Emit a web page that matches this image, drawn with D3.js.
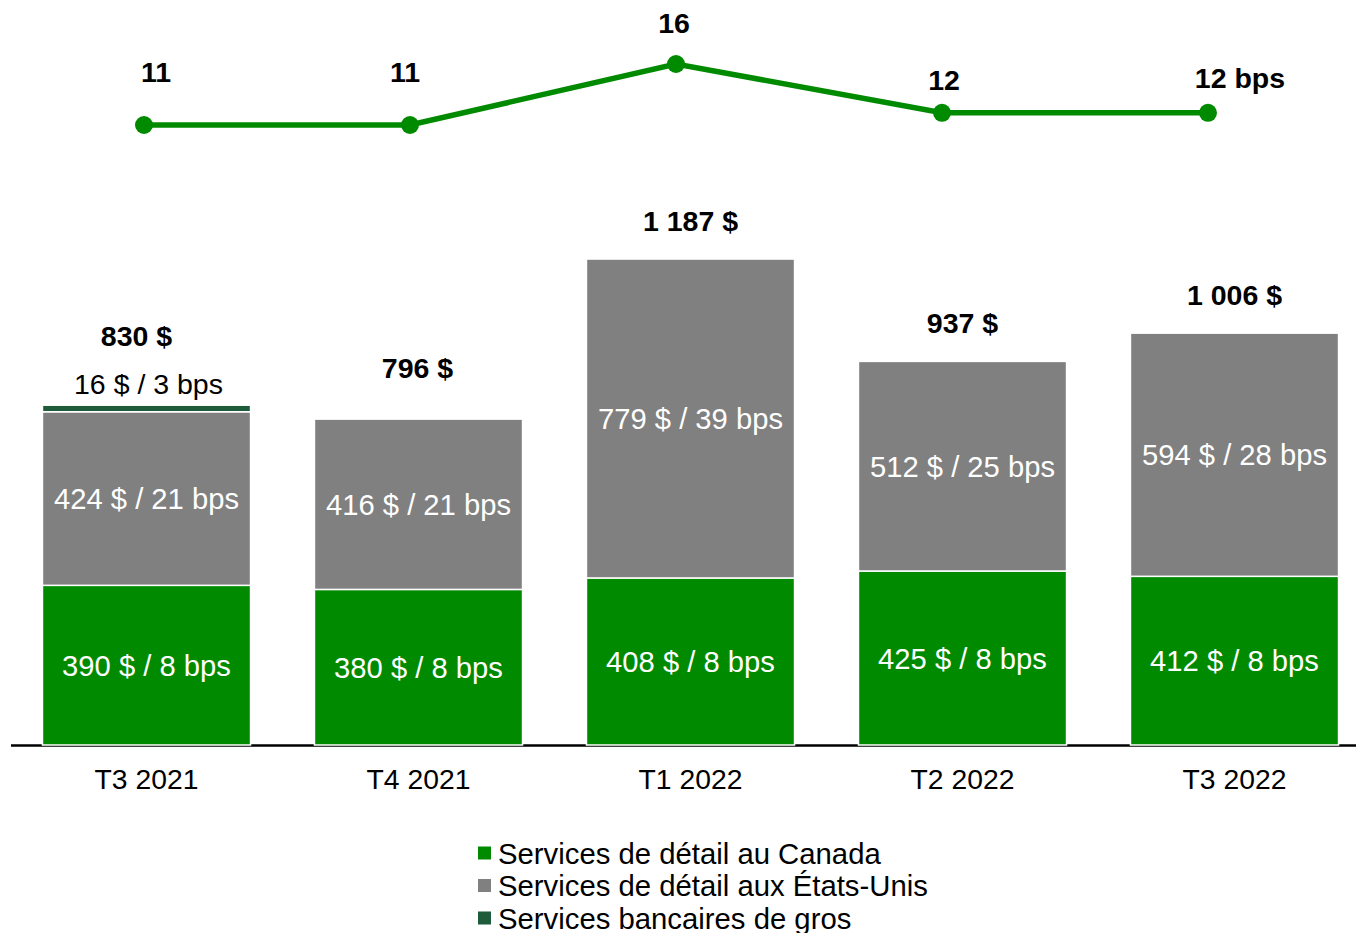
<!DOCTYPE html>
<html>
<head>
<meta charset="utf-8">
<script src="https://cdn.jsdelivr.net/npm/d3@7"></script>
<style>
  html, body { margin: 0; padding: 0; background: #fff; }
  svg { display: block; font-family: "Liberation Sans", Arial, sans-serif; }
</style>
</head>
<body>
<svg id="chart" width="1356" height="933"></svg>
<script>
// Quarters shown on the x axis
const quarters = ["T3 2021", "T4 2021", "T1 2022", "T2 2022", "T3 2022"];

// Provisions (millions $) by segment, with basis points
const canadaValues = [390, 380, 408, 425, 412];
const canadaBps = [8, 8, 8, 8, 8];
const usValues = [424, 416, 779, 512, 594];
const usBps = [21, 21, 39, 25, 28];
const wholesaleValues = [16, 0, 0, 0, 0];
const wholesaleBps = [3, 0, 0, 0, 0];
const totals = [830, 796, 1187, 937, 1006];

// Total ratio in basis points (line on top)
const totalBps = [11, 11, 16, 12, 12];
const totalBpsLabels = ["11", "11", "16", "12", "12 bps"];

const seriesNames = [
  "Services de détail au Canada",
  "Services de détail aux États-Unis",
  "Services bancaires de gros"
];

// Styling / layout
const colors = ["#008a00", "#808080", "#1d5b3a"];
const lineColor = "#008a00";
const lineLabelOffsets = [[12, -43], [-5, -43], [-2, -31], [2, -23], [32, -25]];
const totalLabelOffsets = [[-10, -59], [-1, -41], [0, -28], [0, -28], [0, -28]];

const svg = d3.select("#chart");
const fmt = v => d3.format(",")(v).replace(/,/g, "\u00a0");

const x = d3.scaleBand().domain(quarters).range([10.5, 1370.5])
  .paddingInner(0.235).paddingOuter(0.1175);
const y = d3.scaleLinear().domain([0, 1200]).range([745, 745 - 1200 * 0.4094]);

const xLine = d3.scalePoint().domain(quarters).range([144, 1208]);
const yLine = d3.scaleLinear().domain([11, 16]).range([125, 64]);

// Stacked bars
const rows = quarters.map((q, i) => ({
  q, canada: canadaValues[i], us: usValues[i], wholesale: wholesaleValues[i]
}));
const keys = ["canada", "us", "wholesale"];
const stacked = d3.stack().keys(keys)(rows);
const bpsByKey = { canada: canadaBps, us: usBps, wholesale: wholesaleBps };

const gBars = svg.append("g");
stacked.forEach((layer, k) => {
  gBars.selectAll(null).data(layer.filter(d => d[1] - d[0] > 0)).enter()
    .append("rect")
    .attr("x", d => x(d.data.q))
    .attr("width", x.bandwidth())
    .attr("y", d => y(d[1]))
    .attr("height", d => y(d[0]) - y(d[1]))
    .attr("fill", colors[k])
    .attr("stroke", "#fff")
    .attr("stroke-width", 1.5);
});

// Axis baseline and category labels
const xAxis = d3.axisBottom(x).tickSize(0).tickPadding(24);
const axisG = svg.append("g").attr("transform", "translate(0,745)").call(xAxis);
axisG.select(".domain").remove();
axisG.selectAll("text").attr("font-size", 28.3).attr("fill", "#000")
  .attr("font-family", "Liberation Sans, Arial, sans-serif");
svg.insert("line", ":first-child")
  .attr("x1", 11).attr("x2", 1356).attr("y1", 745.5).attr("y2", 745.5)
  .attr("stroke", "#000").attr("stroke-width", 2.5);

// Segment labels inside bars (Canada, US)
["canada", "us"].forEach((key, k) => {
  const layer = stacked[k];
  svg.append("g").selectAll("text").data(layer).enter().append("text")
    .attr("x", d => x(d.data.q) + x.bandwidth() / 2)
    .attr("y", d => (y(d[0]) + y(d[1])) / 2)
    .attr("dy", "0.36em")
    .attr("text-anchor", "middle")
    .attr("font-size", 29.2)
    .attr("fill", "#fff")
    .text((d, i) => `${d.data[key]} $ / ${bpsByKey[key][i]} bps`);
});

// Wholesale label above its thin segment
svg.append("g").selectAll("text")
  .data(stacked[2].filter(d => d[1] - d[0] > 0)).enter().append("text")
  .attr("x", d => x(d.data.q) + x.bandwidth() / 2 + 2)
  .attr("y", d => y(d[1]) - 11)
  .attr("text-anchor", "middle")
  .attr("font-size", 28.5)
  .attr("fill", "#000")
  .text(d => {
    const i = quarters.indexOf(d.data.q);
    return `${wholesaleValues[i]} $ / ${wholesaleBps[i]} bps`;
  });

// Totals above stacks
svg.append("g").selectAll("text").data(quarters).enter().append("text")
  .attr("x", (q, i) => x(q) + x.bandwidth() / 2 + totalLabelOffsets[i][0])
  .attr("y", (q, i) => y(totals[i]) + totalLabelOffsets[i][1])
  .attr("text-anchor", "middle")
  .attr("font-size", 28.5)
  .attr("font-weight", "bold")
  .attr("fill", "#000")
  .text((q, i) => `${fmt(totals[i])} $`);

// Line of total bps
const line = d3.line().x((d, i) => xLine(quarters[i])).y(d => yLine(d));
svg.append("path").datum(totalBps)
  .attr("d", line)
  .attr("fill", "none")
  .attr("stroke", lineColor)
  .attr("stroke-width", 5.5);
svg.append("g").selectAll("circle").data(totalBps).enter().append("circle")
  .attr("cx", (d, i) => xLine(quarters[i]))
  .attr("cy", d => yLine(d))
  .attr("r", 9)
  .attr("fill", lineColor);
svg.append("g").selectAll("text").data(totalBps).enter().append("text")
  .attr("x", (d, i) => xLine(quarters[i]) + lineLabelOffsets[i][0])
  .attr("y", (d, i) => yLine(d) + lineLabelOffsets[i][1])
  .attr("text-anchor", "middle")
  .attr("font-size", 28.5)
  .attr("font-weight", "bold")
  .attr("fill", "#000")
  .text((d, i) => totalBpsLabels[i]);

// Legend
const legend = svg.append("g").attr("transform", "translate(478,853)");
seriesNames.forEach((name, i) => {
  const g = legend.append("g").attr("transform", `translate(0,${i * 32.5})`);
  g.append("rect").attr("x", 0).attr("y", -6.5).attr("width", 13).attr("height", 13)
    .attr("fill", colors[i]);
  g.append("text").attr("x", 20).attr("y", 0).attr("dy", "0.36em")
    .attr("font-size", 29.3).attr("fill", "#000").text(name);
});
</script>
</body>
</html>
